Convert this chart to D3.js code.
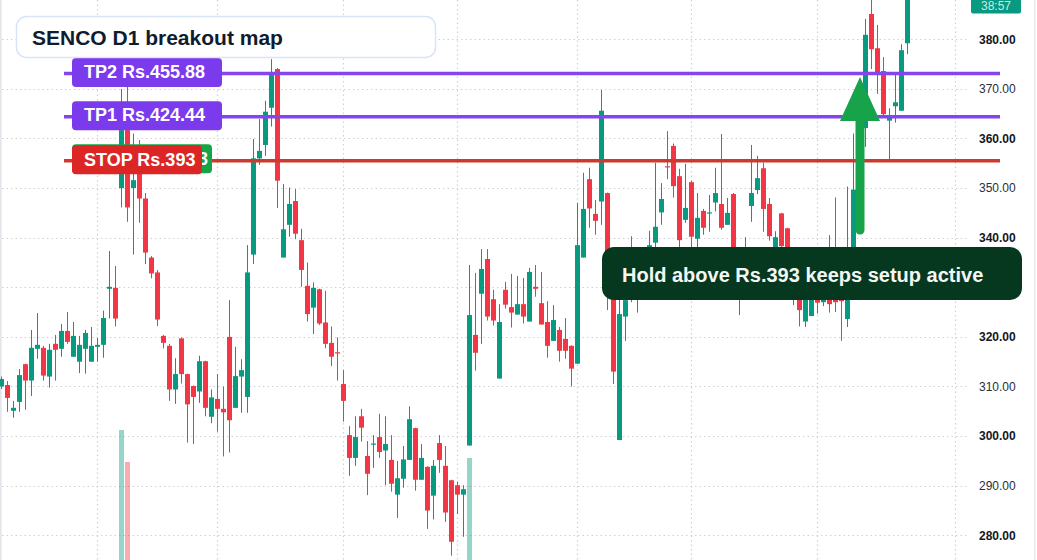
<!DOCTYPE html>
<html><head><meta charset="utf-8">
<script src="https://cdn.jsdelivr.net/npm/d3@7/dist/d3.min.js"></script>
<style>html,body{margin:0;padding:0;background:#fff;overflow:hidden}svg{display:block;font-family:"Liberation Sans",Arial,sans-serif}</style>
</head><body><svg id="c" width="1037" height="560"></svg>
<script>
// ---- data ----
const open  = [310.0,310.3,305.1,306.9,314.5,311.2,317.6,317.8,312.0,318.6,317.6,321.2,316.0,315.0,317.6,315.0,318.0,318.4,329.7,329.9,
350.0,361.7,350.0,355.7,347.9,336.0,333.0,320.2,318.2,309.4,319.7,312.5,310.1,309.0,315.1,303.9,307.5,305.5,320.0,305.7,
312.0,307.9,336.6,356.0,358.7,366.2,374.0,336.0,342.6,347.4,339.5,330.3,325.9,329.6,322.9,318.8,316.9,310.5,300.2,295.6,
304.0,296.0,298.3,299.8,297.1,295.2,288.2,291.4,295.2,301.6,291.2,293.8,288.0,298.6,294.0,291.1,290.1,288.2,298.1,320.4,
328.7,335.7,327.6,311.6,329.5,326.0,324.5,326.6,323.1,330.1,326.8,323.0,319.2,321.4,319.6,318.2,314.6,336.0,351.8,344.8,
347.3,349.0,334.0,299.2,324.1,336.0,328.0,330.0,333.0,339.0,345.1,354.4,358.5,352.4,343.6,351.2,339.8,345.4,344.9,347.1,
346.8,342.6,348.8,330.0,331.0,346.4,349.6,354.0,346.8,333.0,344.9,341.9,329.0,331.0,323.1,324.2,331.0,327.0,332.0,333.0,
330.0,323.6,330.0,349.0,362.1,385.1,378.2,373.6,363.6,366.5,365.6,379.2];
const high  = [312.0,311.1,307.1,313.5,314.6,321.4,324.8,318.2,318.6,320.4,322.6,325.0,323.0,320.2,321.4,322.0,319.8,325.3,337.3,334.3,
370.0,379.4,361.0,359.7,349.0,336.3,333.5,320.4,318.6,315.7,319.9,312.6,310.2,316.2,315.2,309.4,312.5,310.0,327.4,318.0,
315.5,338.5,359.9,363.9,367.6,376.0,374.2,350.8,350.1,349.8,341.8,335.0,331.0,329.7,329.3,322.1,319.9,313.3,302.0,304.0,
305.5,299.0,300.2,304.5,304.0,300.2,295.0,298.0,306.0,301.7,298.4,293.9,295.2,300.2,298.0,291.2,290.8,290.1,334.5,332.9,
337.7,337.7,329.5,326.6,331.1,332.7,332.3,331.9,333.9,334.5,333.1,327.2,326.4,322.0,323.8,318.3,347.0,353.1,354.1,347.6,
369.8,349.1,336.0,329.0,330.0,340.3,336.0,336.0,341.4,355.1,351.0,361.5,359.0,353.9,354.9,351.5,349.0,345.8,348.6,354.1,
360.9,348.0,349.0,338.0,340.1,358.7,356.5,355.1,348.0,341.3,345.0,342.0,336.0,335.0,334.0,333.0,334.0,333.0,340.5,348.1,
332.0,350.3,361.0,366.0,384.1,389.0,382.9,376.4,366.1,372.8,379.0,392.0];
const low   = [309.5,304.9,303.7,304.9,305.3,308.1,315.6,311.2,309.8,311.2,316.0,318.6,316.0,312.7,312.6,315.0,315.0,315.8,323.7,322.1,
346.1,343.2,336.6,343.0,334.7,331.8,322.2,317.7,307.1,306.5,310.6,298.7,298.4,306.7,304.0,302.6,300.9,295.9,296.7,305.7,
304.7,304.7,334.7,354.7,356.5,362.4,346.0,336.0,340.2,339.7,330.1,323.1,320.6,322.4,317.7,314.1,311.2,302.9,292.0,294.0,
298.9,288.1,293.6,295.6,290.1,288.8,283.5,289.6,295.2,289.0,291.2,281.3,283.2,292.6,282.7,275.9,284.3,279.7,298.1,313.2,
318.6,323.3,322.3,311.6,325.7,321.9,324.5,322.7,323.1,328.1,322.5,315.8,319.2,315.0,315.6,310.0,314.6,336.0,342.0,340.6,
342.6,325.4,310.5,299.2,319.2,327.0,324.9,328.0,331.0,336.0,342.6,351.8,348.1,337.0,343.0,336.0,336.0,340.6,341.2,345.3,
341.6,342.6,330.0,324.4,328.0,343.2,348.8,341.2,339.4,330.0,336.0,330.0,326.4,322.1,322.0,324.2,324.7,326.2,324.9,325.0,
319.2,322.0,328.0,347.0,358.3,374.0,369.0,364.7,355.7,363.2,365.6,377.0];
const close = [311.5,307.7,305.7,312.3,311.2,317.8,318.4,312.2,317.4,317.4,321.2,319.0,320.2,318.4,320.8,318.2,318.4,323.8,330.1,323.7,
361.7,346.1,351.6,347.9,337.0,332.8,323.5,318.8,309.4,312.5,312.5,306.4,307.9,315.1,305.7,307.8,305.5,304.8,303.2,312.1,
313.3,333.0,356.0,357.5,365.4,373.1,351.5,341.7,346.8,340.8,333.5,324.6,329.9,322.7,318.6,316.0,316.8,307.1,295.6,299.8,
301.7,292.4,298.5,296.8,298.4,290.4,291.5,295.3,303.4,291.2,295.6,285.0,294.0,295.2,284.6,278.7,288.2,289.3,324.4,316.8,
333.7,324.1,323.3,323.0,326.5,324.9,326.6,324.1,333.1,329.7,322.5,318.2,323.4,317.2,317.2,313.6,338.5,345.8,345.9,343.4,
365.6,333.0,313.0,324.6,327.4,330.0,333.0,333.0,338.5,342.2,347.8,354.2,350.4,339.5,346.0,340.2,344.0,342.0,345.1,349.0,
342.0,345.0,333.0,335.0,337.0,349.0,352.0,345.8,340.3,340.1,338.3,334.0,333.0,325.4,331.0,330.0,326.9,330.0,326.6,327.0,
327.2,333.0,349.7,362.0,380.9,378.0,373.3,364.9,364.4,367.3,377.8,390.0];
const volIdx = [20, 21, 78];
const volVal = [8.5, 6.9, 7.1];
const monthIdx = [16, 36, 57, 76, 96, 115, 136, 159];
const priceTicks = [280, 290, 300, 310, 320, 330, 340, 350, 360, 370, 380];
const boldTicks = [280, 300, 320, 340, 360, 380];
const levelPrice = [373.1, 364.4, 355.5];
const levelText  = ["TP2 Rs.455.88", "TP1 Rs.424.44", "STOP Rs.393"];
const levelColor = ["#7c3aed", "#7c3aed", "#dc2626"];
const lineColor  = ["#8445ef", "#8445ef", "#cc3a2e"];
const entryText = "3";
const titleText = "SENCO D1 breakout map";
const calloutText = "Hold above Rs.393 keeps setup active";
const timerText = "38:57";

// ---- scales ----
const svg = d3.select("#c");
const x = d3.scaleLinear().domain([0, 160]).range([1.5, 961.5]);
const y = d3.scaleLinear().domain([280, 380]).range([535.3, 39.3]);
const vy = d3.scaleLinear().domain([0, 10]).range([600, 400]);
const up = "#089981", dn = "#f23645";
const N = open.length;
const idx = d3.range(N);

// borders
svg.append("rect").attr("x",0).attr("y",0).attr("width",1.6).attr("height",560).attr("fill","#e3e5ea");
svg.append("rect").attr("x",1034).attr("y",0).attr("width",1.5).attr("height",560).attr("fill","#e8e9ec");

// grid
const grid = svg.append("g").attr("stroke","#cfd1d6").attr("stroke-width",1.2).attr("stroke-dasharray","1.5,3");
grid.selectAll("line.h").data(priceTicks).join("line").attr("class","h")
  .attr("x1",2).attr("x2",968).attr("y1",d=>Math.round(y(d))+0.5).attr("y2",d=>Math.round(y(d))+0.5);
grid.selectAll("line.v").data(monthIdx).join("line").attr("class","v")
  .attr("x1",d=>x(d)).attr("x2",d=>x(d)).attr("y1",0).attr("y2",560);

// volume
svg.append("g").selectAll("rect").data(volIdx).join("rect")
  .attr("x",(d)=>x(d)-2.5).attr("width",5)
  .attr("y",(d,k)=>vy(volVal[k])).attr("height",(d,k)=>vy(0)-vy(volVal[k]))
  .attr("fill",d=>close[d]>=open[d]?"rgba(8,153,129,0.42)":"rgba(242,54,69,0.42)");

// candles
const cg = svg.append("g");
cg.selectAll("line").data(idx).join("line")
  .attr("x1",i=>x(i)).attr("x2",i=>x(i)).attr("y1",i=>y(high[i])).attr("y2",i=>y(low[i]))
  .attr("stroke",i=>close[i]>=open[i]?up:dn).attr("stroke-width",1);
cg.selectAll("rect").data(idx).join("rect")
  .attr("x",i=>x(i)-2.5).attr("width",5)
  .attr("y",i=>y(Math.max(open[i],close[i])))
  .attr("height",i=>Math.max(1.2, Math.abs(y(open[i])-y(close[i]))))
  .attr("fill",i=>close[i]>=open[i]?up:dn);

// level lines
svg.append("g").selectAll("line").data(levelPrice).join("line")
  .attr("x1",64).attr("x2",1000).attr("y1",d=>y(d)).attr("y2",d=>y(d))
  .attr("stroke",(d,k)=>lineColor[k]).attr("stroke-width",3.4);

// entry label (mostly hidden behind stop label)
const eg = svg.append("g");
eg.append("rect").attr("x",72).attr("y",y(levelPrice[2])-16.5).attr("width",140).attr("height",29).attr("rx",4).attr("fill","#16a34a");
eg.append("text").attr("x",208).attr("y",y(levelPrice[2])+4).attr("text-anchor","end")
  .attr("fill","#fff").attr("font-weight","bold").attr("font-size",18).text(entryText);

// level labels
const lw = [150, 150, 130];
const lg = svg.append("g").selectAll("g").data(levelPrice).join("g");
lg.append("rect").attr("x",72).attr("y",d=>y(d)-15.5).attr("width",(d,k)=>lw[k]).attr("height",29).attr("rx",4)
  .attr("fill",(d,k)=>levelColor[k]);
lg.append("text").attr("x",84).attr("y",d=>y(d)+4.8).attr("fill","#fff").attr("font-weight","bold").attr("font-size",18)
  .text((d,k)=>levelText[k]);

// price axis
const ax = svg.append("g").attr("transform","translate(979,0)")
  .call(d3.axisRight(y).tickValues(priceTicks).tickSize(0).tickPadding(0).tickFormat(d3.format(".2f")));
ax.select(".domain").remove();
ax.selectAll("text").attr("font-size",12).attr("font-family","'Liberation Sans',Arial,sans-serif")
  .attr("fill",d=>boldTicks.includes(d)?"#131722":"#2a2e39")
  .attr("font-weight",d=>boldTicks.includes(d)?"bold":"normal");
ax.selectAll(".tick").filter(d=>d===330).remove();

// timer tag
svg.append("rect").attr("x",971).attr("y",-10).attr("width",50).attr("height",23.5).attr("rx",2).attr("fill",up);
svg.append("text").attr("x",996).attr("y",10).attr("text-anchor","middle").attr("font-size",12).attr("fill","#c9ece5").text(timerText);

// title box
svg.append("rect").attr("x",16.5).attr("y",16.5).attr("width",419).attr("height",41).attr("rx",10)
  .attr("fill","#fff").attr("stroke","#d8e5f6").attr("stroke-width",1.5);
svg.append("text").attr("x",32).attr("y",44.5).attr("font-size",21).attr("font-weight","bold").attr("fill","#0f1c2e").text(titleText);

// arrow
svg.append("line").attr("x1",860).attr("x2",860).attr("y1",230).attr("y2",118)
  .attr("stroke","#16a34a").attr("stroke-width",9).attr("stroke-linecap","round");
svg.append("path").attr("d","M840,121L880,121L860,77Z").attr("fill","#16a34a");

// callout
svg.append("rect").attr("x",602).attr("y",247).attr("width",420).attr("height",53).attr("rx",12).attr("fill","#063820");
svg.append("text").attr("x",622).attr("y",282).attr("font-size",20).attr("font-weight","bold").attr("fill","#f3f7f4").text(calloutText);
</script></body></html>
